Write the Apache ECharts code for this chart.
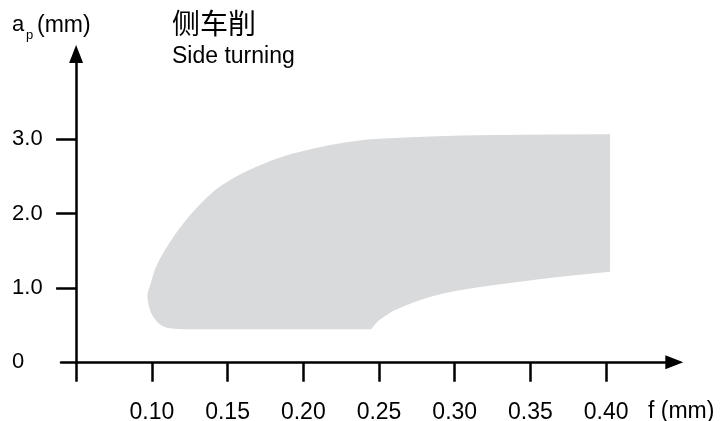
<!DOCTYPE html>
<html>
<head>
<meta charset="utf-8">
<script src="https://cdn.jsdelivr.net/npm/echarts@6/dist/echarts.min.js"></script>
<style>
  html, body { margin: 0; padding: 0; background: #fff; }
  #chart { width: 727px; height: 421px; }
</style>
</head>
<body>
<div id="chart"></div>
<script>
// Tick values / labels
const xTickValues = [0.05, 0.10, 0.15, 0.20, 0.25, 0.30, 0.35, 0.40];
const xLabelValues = [0.10, 0.15, 0.20, 0.25, 0.30, 0.35, 0.40];
const yTickValues = [1, 2, 3];
const yLabelValues = [0, 1, 2, 3];

// Boundary of the application region (f in mm, ap in mm), clockwise from top-right
const regionF = [0.4026, 0.3254, 0.2838, 0.2574, 0.2395, 0.2177, 0.1959, 0.1847, 0.1735, 0.1629,
  0.1517, 0.1405, 0.1253, 0.1121, 0.1033, 0.0989, 0.0971, 0.0979, 0.0995, 0.1022,
  0.1055, 0.1094, 0.1147, 0.1220, 0.2448, 0.2488, 0.2541, 0.2607, 0.2824, 0.3042,
  0.3366, 0.3696, 0.4026];
const regionAp = [3.067, 3.058, 3.038, 3.014, 2.991, 2.923, 2.823, 2.755, 2.668, 2.574,
  2.453, 2.295, 1.982, 1.622, 1.309, 1.040, 0.905, 0.771, 0.663, 0.576,
  0.509, 0.468, 0.451, 0.445, 0.445, 0.542, 0.623, 0.704, 0.872, 0.973,
  1.067, 1.152, 1.219];
// vertices where the outline has a corner
const sharpIdx = [0, 24, 32];

const FONT = '"Liberation Sans", Arial, Helvetica, sans-serif';
const CJK = '"Noto Sans CJK SC", "Liberation Sans", sans-serif';

function smoothPath(pts, sharp) {
  const n = pts.length;
  const isSharp = i => i === 0 || i === n - 1 || sharp.indexOf(i) >= 0;
  const unit = (a, b) => {
    const dx = b[0] - a[0], dy = b[1] - a[1];
    const l = Math.hypot(dx, dy) || 1;
    return [dx / l, dy / l];
  };
  const tangentOut = i => isSharp(i) ? unit(pts[i], pts[i + 1]) : unit(pts[i - 1], pts[i + 1]);
  const tangentIn = i => isSharp(i) ? unit(pts[i - 1], pts[i]) : unit(pts[i - 1], pts[i + 1]);
  let d = 'M' + pts[0][0] + ' ' + pts[0][1];
  for (let i = 0; i < n - 1; i++) {
    const p1 = pts[i], p2 = pts[i + 1];
    const len = Math.hypot(p2[0] - p1[0], p2[1] - p1[1]) / 3;
    const t1 = tangentOut(i), t2 = tangentIn(i + 1);
    const c1 = [p1[0] + t1[0] * len, p1[1] + t1[1] * len];
    const c2 = [p2[0] - t2[0] * len, p2[1] - t2[1] * len];
    d += ' C' + c1[0] + ' ' + c1[1] + ' ' + c2[0] + ' ' + c2[1] + ' ' + p2[0] + ' ' + p2[1];
  }
  return d + ' Z';
}

const chart = echarts.init(document.getElementById('chart'), null, { renderer: 'canvas' });

chart.setOption({
  animation: false,
  backgroundColor: '#ffffff',
  grid: { left: 61, width: 613.3, top: 54, bottom: 58.7, containLabel: false, outerBoundsMode: 'none' },
  xAxis: {
    type: 'value',
    min: 0.04,
    max: 0.445,
    splitLine: { show: false },
    axisLine: {
      show: true,
      onZero: false,
      symbol: ['none', 'triangle'],
      symbolSize: [14, 18],
      lineStyle: { color: '#000', width: 2.5 }
    },
    axisTick: {
      show: true,
      customValues: xTickValues,
      length: 19.5,
      lineStyle: { color: '#000', width: 2.5 }
    },
    axisLabel: {
      customValues: xLabelValues,
      formatter: v => v.toFixed(2),
      margin: 38.5,
      fontSize: 23,
      fontFamily: FONT,
      color: '#000'
    }
  },
  yAxis: {
    type: 'value',
    min: 0,
    max: 4.148,
    offset: -15.1,
    splitLine: { show: false },
    axisLine: {
      show: true,
      onZero: false,
      symbol: ['none', 'triangle'],
      symbolSize: [14, 18],
      lineStyle: { color: '#000', width: 2.5 }
    },
    axisTick: {
      show: true,
      customValues: yTickValues,
      length: 20,
      lineStyle: { color: '#000', width: 2.5 }
    },
    axisLabel: {
      customValues: yLabelValues,
      formatter: v => (v === 0 ? '0' : v.toFixed(1)),
      align: 'left',
      margin: 64,
      fontSize: 22,
      fontFamily: FONT,
      color: '#000'
    }
  },
  graphic: [
    { type: 'text', left: 12, top: 14, style: { text: 'a', font: '22px ' + FONT, fill: '#000' } },
    { type: 'text', left: 26, top: 29, style: { text: 'p', font: '13px ' + FONT, fill: '#000' } },
    { type: 'text', left: 37, top: 14, style: { text: '(mm)', font: '23px ' + FONT, fill: '#000' } },
    { type: 'text', left: 172, top: 9, style: { text: '侧车削', font: '28px ' + CJK, fill: '#000' } },
    { type: 'text', left: 172, top: 45, style: { text: 'Side turning', font: '23px ' + FONT, fill: '#000' } },
    { type: 'text', left: 332, top: 176, style: { text: '断屑槽 .54', font: '25px ' + CJK, fill: '#000' } },
    { type: 'text', left: 332, top: 211.5, style: { text: 'Geometry .54', font: '23px ' + FONT, fill: '#000' } },
    { type: 'text', left: 648, top: 400, style: { text: 'f (mm)', font: '23px ' + FONT, fill: '#000' } }
  ],
  series: [{
    type: 'custom',
    coordinateSystem: 'cartesian2d',
    clip: false,
    silent: true,
    z: 1,
    data: [[regionF[0], regionAp[0]]],
    renderItem: function (params, api) {
      const pts = regionF.map((f, i) => api.coord([f, regionAp[i]]));
      return {
        type: 'path',
        shape: { pathData: smoothPath(pts, sharpIdx) },
        style: { fill: '#d9dadc', stroke: null }
      };
    }
  }]
});
</script>
</body>
</html>
